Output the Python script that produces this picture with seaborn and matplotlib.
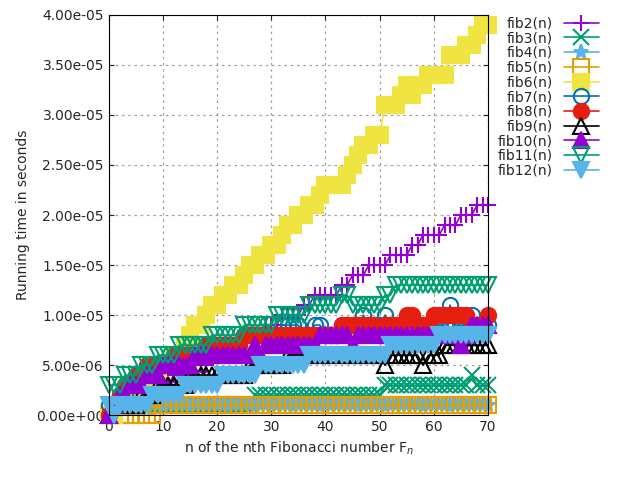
import numpy as np
import pandas as pd
import matplotlib
matplotlib.use("Agg")
import matplotlib.pyplot as plt
import seaborn as sns
from matplotlib.ticker import FormatStrFormatter

n = list(range(71))

# running times in microseconds
fib2 = [0,0,1,1,1,2,2,2,3,3,3,3,4,4,4,5,5,5,5,6,6,6,7,7,7,8,8,8,8,9,9,9,10,10,10,10,11,11,12,12,
        12,12,12,13,13,14,14,14,15,15,15,15,16,16,16,16,17,17,18,18,18,18,19,19,19,20,20,20,21,21,21]
fib3 = [0,1,1,1,1,1,1,1,1,1,1,1,1,1,1,1,1,1,1,1,1,1,1,1,1,1,1,2,2,2,2,2,2,2,2,2,2,2,2,2,
        2,2,2,2,2,2,2,2,2,2,2,3,3,3,3,3,3,3,3,3,3,3,3,3,3,3,3,4,3,3,3]
fib4 = [0,1,1,1,1,1,1,1,1,1,1,1,1,1,1,1,1,1,1,1,1,1,1,1,1,1,1,1,1,1,1,1,1,1,1,1,1,1,1,1,
        1,1,1,1,1,1,1,1,1,1,1,1,1,1,1,1,1,1,1,1,1,1,1,1,1,1,1,1,1,1,1]
fib5 = [0,0,0,0,0,0,0,0,0,1,1,1,1,1,1,1,1,1,1,1,1,1,1,1,1,1,1,1,1,1,1,1,1,1,1,1,1,1,1,1,
        1,1,1,1,1,1,1,1,1,1,1,1,1,1,1,1,1,1,1,1,1,1,1,1,1,1,1,1,1,1,1]
fib6 = [0,0,1,1,2,2,3,3,4,4,5,5,6,6,7,8,9,9,10,11,11,12,12,13,13,14,15,15,16,16,17,17,18,19,19,20,20,21,21,22,
        23,23,23,23,24,25,26,27,27,28,28,31,31,31,32,33,32,33,33,34,34,34,34,36,36,36,37,37,38,39,39]
fib7 = [1,1,2,2,3,3,4,4,4,5,5,5,5,5,6,6,6,6,6,7,7,7,7,7,7,8,8,8,8,8,8,8,9,9,9,9,8,8,9,9,
        8,8,8,9,9,9,9,10,9,9,9,10,9,9,9,9,9,9,9,9,9,9,9,11,9,9,9,10,9,9,9]
fib8 = [0,1,2,3,3,4,4,5,5,5,5,5,6,6,6,6,6,6,7,7,7,7,7,7,7,8,8,8,8,8,8,8,8,8,8,8,8,8,8,8,
        8,8,8,9,9,9,9,9,9,9,8,9,9,9,9,10,10,9,9,9,10,10,10,10,10,10,10,9,9,9,10]
fib9 = [0,1,1,1,1,1,2,2,2,3,3,3,3,3,3,4,4,4,4,4,4,4,4,4,4,4,5,5,5,5,5,5,5,6,6,6,6,6,6,6,
        6,6,6,6,6,6,6,6,6,6,6,5,6,6,6,6,6,6,5,6,6,6,7,7,7,7,7,7,7,7,7]
fib10 = [0,1,2,2,3,3,3,4,4,4,5,5,5,5,5,5,6,6,6,6,6,6,6,6,6,6,6,7,6,7,7,7,7,7,7,7,7,7,7,8,
         8,8,8,8,8,7,8,8,8,8,8,8,8,8,8,8,8,8,8,8,8,8,8,8,8,7,8,9,9,9,9]
fib11 = [3,3,3,4,4,4,5,5,5,6,6,6,6,7,7,7,7,7,7,8,8,8,8,8,8,9,9,9,9,9,9,10,10,10,10,10,10,11,11,11,
         11,11,11,12,12,11,11,11,11,11,11,12,12,13,13,13,13,13,13,13,13,13,13,13,13,13,13,13,13,13,13]
fib12 = [1,0,1,1,1,1,1,1,2,2,2,2,2,2,3,3,3,3,3,3,3,4,4,4,4,4,4,4,5,5,5,5,5,5,5,5,5,6,6,6,
         6,6,6,6,6,6,6,6,6,6,6,6,7,7,7,7,7,7,7,7,7,8,8,8,8,8,8,8,8,8,8]

series = [fib2, fib3, fib4, fib5, fib6, fib7, fib8, fib9, fib10, fib11, fib12]
names = ["fib%d(n)" % i for i in range(2, 13)]

colors = ["#9400d3", "#009e73", "#56b4e9", "#e69f00", "#f0e442", "#0072b2",
          "#e51e10", "#000000", "#9400d3", "#009e73", "#56b4e9"]
markers = ["+", "x", "*", "s", "s", "o", "o", "^", "^", "v", "v"]
filled = [True, True, True, False, True, False, True, False, True, False, True]

sns.set_style("ticks")
plt.rcParams['font.family'] = ['DejaVu Sans']
fig = plt.figure(figsize=(6.4, 4.8), dpi=100)
ax = fig.add_axes([0.17, 0.135, 0.5925, 0.834])

for vals, name, c, m, f in zip(series, names, colors, markers, filled):
    y = np.array(vals) * 1e-6
    sns.lineplot(x=n, y=y, ax=ax, color=c, marker=m, markersize=11, linewidth=1.2,
                 markerfacecolor=c if f else "none", markeredgecolor=c,
                 markeredgewidth=1.5, label=name, clip_on=False)

ax.set_xlim(0, 70)
ax.set_ylim(0, 4e-5)
ax.set_xticks(range(0, 71, 10))
ax.set_yticks(np.arange(0, 4.01e-5, 5e-6))
ax.yaxis.set_major_formatter(FormatStrFormatter("%.2e"))
ax.grid(True, linestyle=(0, (2, 3)), color="#a0a0a0", linewidth=0.9)
ax.tick_params(direction="in", top=True, right=True, labelsize=10)
for s in ax.spines.values():
    s.set_color("black")
ax.set_xlabel("n of the nth Fibonacci number F$_n$", fontsize=10)
ax.set_ylabel("Running time in seconds", fontsize=10)
ax.legend(loc="upper left", bbox_to_anchor=(1.0, 1.02), frameon=False, fontsize=10,
          markerfirst=False, handlelength=2.5, labelspacing=0.05, borderaxespad=0.3)

fig.savefig("out.png", dpi=100)
